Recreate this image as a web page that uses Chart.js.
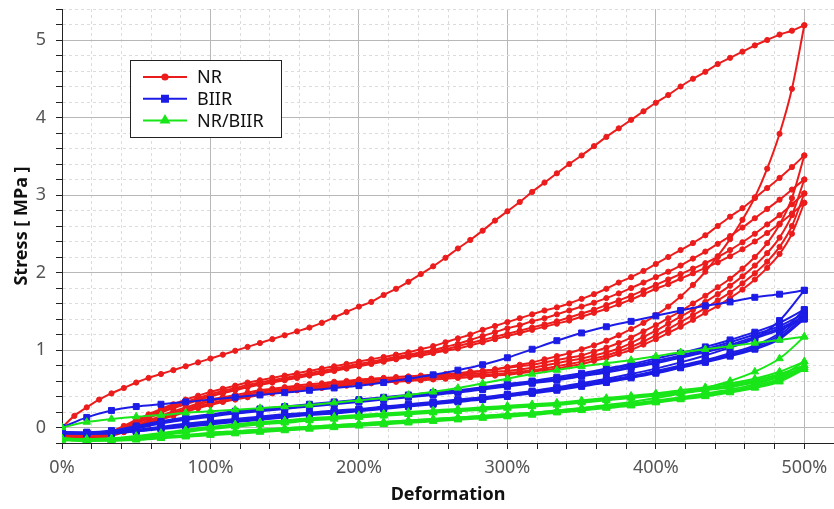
<html>
  <head>
    <script src="https://cdn.jsdelivr.net/npm/chart.js@4.4.0/dist/chart.umd.min.js"></script>
    <style>
      body { margin: 0; background: #fff; }
    </style>
  </head>
  <body>
    <canvas id="loopChart" width="834" height="509"></canvas>
    <script>
      // strain grids in %, NR is sampled twice as dense as the other two
      const nrStrain = [
        0, 8.33, 16.67, 25, 33.33, 41.67, 50, 58.33, 66.67, 75, 83.33, 91.67,
        100, 108.33, 116.67, 125, 133.33, 141.67, 150, 158.33, 166.67, 175, 183.33, 191.67,
        200, 208.33, 216.67, 225, 233.33, 241.67, 250, 258.33, 266.67, 275, 283.33, 291.67,
        300, 308.33, 316.67, 325, 333.33, 341.67, 350, 358.33, 366.67, 375, 383.33, 391.67,
        400, 408.33, 416.67, 425, 433.33, 441.67, 450, 458.33, 466.67, 475, 483.33, 491.67,
        500
      ];
      const biirStrain = [
        0, 16.67, 33.33, 50, 66.67, 83.33,
        100, 116.67, 133.33, 150, 166.67, 183.33,
        200, 216.67, 233.33, 250, 266.67, 283.33,
        300, 316.67, 333.33, 350, 366.67, 383.33,
        400, 416.67, 433.33, 450, 466.67, 483.33,
        500
      ];

      // stress in MPa, one row per cycle; unloading rows are also listed from 0% up to 500%
      const nrLoading = [
        [0.00, 0.15, 0.26, 0.36, 0.44, 0.51, 0.58, 0.64, 0.69, 0.74, 0.79, 0.84,
         0.89, 0.94, 0.99, 1.04, 1.09, 1.14, 1.19, 1.24, 1.29, 1.35, 1.42, 1.49,
         1.56, 1.62, 1.71, 1.79, 1.88, 1.98, 2.08, 2.19, 2.31, 2.42, 2.54, 2.67,
         2.79, 2.91, 3.04, 3.16, 3.28, 3.40, 3.51, 3.63, 3.75, 3.86, 3.97, 4.08,
         4.19, 4.29, 4.40, 4.50, 4.59, 4.69, 4.77, 4.85, 4.93, 5.00, 5.07, 5.12, 5.19],
        [-0.08, -0.10, -0.10, -0.09, -0.05, 0.02, 0.10, 0.17, 0.24, 0.30, 0.36, 0.41,
         0.46, 0.50, 0.54, 0.58, 0.61, 0.64, 0.67, 0.70, 0.73, 0.76, 0.79, 0.82,
         0.85, 0.88, 0.91, 0.94, 0.97, 1.01, 1.05, 1.10, 1.15, 1.20, 1.26, 1.31,
         1.36, 1.41, 1.46, 1.51, 1.55, 1.60, 1.66, 1.72, 1.79, 1.87, 1.94, 2.02,
         2.11, 2.20, 2.29, 2.38, 2.48, 2.60, 2.72, 2.83, 2.96, 3.09, 3.22, 3.36, 3.51],
        [-0.09, -0.11, -0.11, -0.10, -0.06, 0.01, 0.08, 0.15, 0.22, 0.28, 0.33, 0.38,
         0.43, 0.47, 0.51, 0.55, 0.58, 0.61, 0.64, 0.67, 0.70, 0.73, 0.76, 0.79,
         0.82, 0.85, 0.88, 0.91, 0.94, 0.97, 1.00, 1.04, 1.08, 1.13, 1.18, 1.23,
         1.28, 1.32, 1.37, 1.41, 1.46, 1.51, 1.56, 1.61, 1.67, 1.73, 1.80, 1.87,
         1.94, 2.01, 2.09, 2.18, 2.27, 2.37, 2.47, 2.58, 2.70, 2.82, 2.94, 3.07, 3.20],
        [-0.10, -0.11, -0.11, -0.10, -0.07, -0.01, 0.06, 0.13, 0.20, 0.26, 0.31, 0.36,
         0.41, 0.45, 0.49, 0.53, 0.56, 0.59, 0.62, 0.65, 0.68, 0.71, 0.74, 0.77,
         0.80, 0.83, 0.86, 0.89, 0.92, 0.95, 0.98, 1.01, 1.05, 1.09, 1.13, 1.17,
         1.21, 1.25, 1.29, 1.33, 1.37, 1.42, 1.47, 1.52, 1.58, 1.64, 1.70, 1.77,
         1.84, 1.91, 1.98, 2.05, 2.12, 2.20, 2.29, 2.39, 2.50, 2.62, 2.74, 2.88, 3.02],
        [-0.11, -0.12, -0.12, -0.11, -0.08, -0.02, 0.05, 0.12, 0.19, 0.25, 0.30, 0.35,
         0.40, 0.44, 0.48, 0.52, 0.55, 0.58, 0.61, 0.64, 0.67, 0.70, 0.73, 0.76,
         0.79, 0.82, 0.85, 0.88, 0.91, 0.93, 0.96, 0.99, 1.02, 1.06, 1.10, 1.14,
         1.18, 1.22, 1.26, 1.30, 1.34, 1.38, 1.43, 1.48, 1.53, 1.59, 1.65, 1.72,
         1.79, 1.85, 1.92, 1.99, 2.06, 2.13, 2.21, 2.30, 2.40, 2.51, 2.63, 2.76, 2.90]
      ];
      const nrUnloading = [
        [-0.10, -0.12, -0.12, -0.11, -0.09, -0.05, 0.00, 0.06, 0.12, 0.18, 0.23, 0.27,
         0.31, 0.34, 0.37, 0.40, 0.43, 0.45, 0.47, 0.49, 0.51, 0.53, 0.54, 0.56,
         0.57, 0.58, 0.60, 0.61, 0.62, 0.64, 0.65, 0.67, 0.69, 0.71, 0.73, 0.75,
         0.78, 0.81, 0.84, 0.88, 0.92, 0.96, 1.01, 1.06, 1.12, 1.19, 1.27, 1.35,
         1.45, 1.56, 1.69, 1.84, 2.01, 2.21, 2.43, 2.68, 2.97, 3.34, 3.79, 4.37, 5.19],
        [-0.10, -0.12, -0.12, -0.11, -0.08, -0.03, 0.03, 0.09, 0.15, 0.21, 0.26, 0.31,
         0.36, 0.39, 0.42, 0.45, 0.48, 0.50, 0.52, 0.54, 0.56, 0.57, 0.59, 0.60,
         0.62, 0.63, 0.64, 0.65, 0.66, 0.67, 0.68, 0.69, 0.70, 0.72, 0.73, 0.75,
         0.77, 0.79, 0.81, 0.84, 0.87, 0.90, 0.93, 0.98, 1.03, 1.09, 1.16, 1.24,
         1.32, 1.41, 1.50, 1.60, 1.70, 1.81, 1.92, 2.05, 2.20, 2.38, 2.62, 2.96, 3.51],
        [-0.11, -0.12, -0.12, -0.11, -0.09, -0.04, 0.01, 0.07, 0.13, 0.19, 0.24, 0.29,
         0.34, 0.37, 0.40, 0.43, 0.46, 0.48, 0.50, 0.52, 0.54, 0.55, 0.57, 0.58,
         0.60, 0.61, 0.62, 0.63, 0.64, 0.65, 0.66, 0.67, 0.68, 0.69, 0.70, 0.72,
         0.73, 0.75, 0.77, 0.80, 0.83, 0.86, 0.89, 0.93, 0.97, 1.02, 1.09, 1.17,
         1.25, 1.34, 1.43, 1.52, 1.62, 1.72, 1.83, 1.95, 2.09, 2.25, 2.45, 2.74, 3.20],
        [-0.11, -0.13, -0.13, -0.12, -0.10, -0.05, 0.00, 0.05, 0.11, 0.17, 0.22, 0.27,
         0.31, 0.35, 0.38, 0.41, 0.44, 0.46, 0.48, 0.50, 0.52, 0.53, 0.55, 0.56,
         0.58, 0.59, 0.60, 0.61, 0.62, 0.63, 0.64, 0.65, 0.66, 0.67, 0.68, 0.69,
         0.70, 0.72, 0.74, 0.76, 0.79, 0.82, 0.85, 0.89, 0.93, 0.98, 1.04, 1.11,
         1.19, 1.27, 1.36, 1.45, 1.54, 1.64, 1.74, 1.86, 1.99, 2.14, 2.33, 2.60, 3.02],
        [-0.12, -0.13, -0.13, -0.13, -0.11, -0.06, -0.01, 0.04, 0.10, 0.15, 0.20, 0.25,
         0.29, 0.33, 0.36, 0.39, 0.42, 0.44, 0.46, 0.48, 0.50, 0.51, 0.53, 0.54,
         0.56, 0.57, 0.58, 0.59, 0.60, 0.61, 0.62, 0.63, 0.64, 0.65, 0.66, 0.67,
         0.68, 0.70, 0.72, 0.74, 0.76, 0.79, 0.82, 0.86, 0.90, 0.95, 1.00, 1.07,
         1.14, 1.22, 1.30, 1.39, 1.48, 1.57, 1.67, 1.78, 1.91, 2.06, 2.24, 2.50, 2.90]
      ];

      const biirLoading = [
        [0.00, 0.13, 0.22, 0.27, 0.30, 0.33, 0.36, 0.39, 0.42, 0.45, 0.48, 0.51,
         0.54, 0.58, 0.63, 0.68, 0.74, 0.81, 0.90, 1.01, 1.12, 1.22, 1.30, 1.37,
         1.44, 1.51, 1.57, 1.62, 1.68, 1.72, 1.77],
        [-0.06, -0.06, -0.04, 0.02, 0.08, 0.13, 0.17, 0.21, 0.24, 0.27, 0.30, 0.33,
         0.36, 0.39, 0.42, 0.45, 0.48, 0.52, 0.56, 0.60, 0.65, 0.70, 0.76, 0.82,
         0.89, 0.96, 1.04, 1.13, 1.23, 1.35, 1.52],
        [-0.06, -0.07, -0.05, 0.01, 0.07, 0.12, 0.16, 0.20, 0.23, 0.26, 0.29, 0.32,
         0.35, 0.38, 0.41, 0.44, 0.47, 0.51, 0.55, 0.59, 0.63, 0.68, 0.74, 0.80,
         0.86, 0.93, 1.01, 1.10, 1.20, 1.31, 1.47],
        [-0.07, -0.07, -0.05, 0.00, 0.06, 0.11, 0.15, 0.19, 0.22, 0.25, 0.28, 0.31,
         0.34, 0.37, 0.40, 0.43, 0.46, 0.50, 0.54, 0.58, 0.62, 0.67, 0.72, 0.78,
         0.84, 0.91, 0.99, 1.07, 1.17, 1.28, 1.43],
        [-0.07, -0.08, -0.06, -0.01, 0.05, 0.10, 0.14, 0.18, 0.21, 0.24, 0.27, 0.30,
         0.33, 0.36, 0.39, 0.42, 0.45, 0.49, 0.53, 0.57, 0.61, 0.66, 0.71, 0.77,
         0.83, 0.90, 0.97, 1.05, 1.15, 1.26, 1.40]
      ];
      const biirUnloading = [
        [-0.06, -0.07, -0.06, -0.03, 0.01, 0.05, 0.08, 0.11, 0.14, 0.17, 0.19, 0.22,
         0.24, 0.27, 0.30, 0.33, 0.36, 0.39, 0.43, 0.47, 0.52, 0.57, 0.63, 0.69,
         0.76, 0.84, 0.93, 1.03, 1.15, 1.38, 1.77],
        [-0.06, -0.07, -0.06, -0.04, 0.00, 0.04, 0.07, 0.10, 0.13, 0.16, 0.18, 0.21,
         0.23, 0.26, 0.29, 0.32, 0.35, 0.38, 0.42, 0.46, 0.51, 0.55, 0.61, 0.66,
         0.73, 0.80, 0.87, 0.96, 1.06, 1.22, 1.52],
        [-0.07, -0.07, -0.07, -0.04, -0.01, 0.03, 0.06, 0.09, 0.12, 0.15, 0.18, 0.20,
         0.23, 0.26, 0.29, 0.32, 0.35, 0.38, 0.42, 0.46, 0.50, 0.55, 0.60, 0.66,
         0.72, 0.79, 0.86, 0.94, 1.04, 1.19, 1.47],
        [-0.07, -0.08, -0.07, -0.05, -0.01, 0.02, 0.05, 0.08, 0.11, 0.14, 0.17, 0.19,
         0.22, 0.25, 0.28, 0.31, 0.34, 0.37, 0.41, 0.45, 0.49, 0.54, 0.59, 0.65,
         0.71, 0.78, 0.85, 0.93, 1.02, 1.16, 1.43],
        [-0.08, -0.08, -0.08, -0.05, -0.02, 0.01, 0.04, 0.07, 0.10, 0.13, 0.16, 0.18,
         0.21, 0.24, 0.27, 0.30, 0.33, 0.36, 0.40, 0.44, 0.48, 0.53, 0.58, 0.64,
         0.70, 0.77, 0.84, 0.92, 1.01, 1.14, 1.40]
      ];

      const blendLoading = [
        [0.00, 0.07, 0.11, 0.14, 0.16, 0.19, 0.21, 0.23, 0.25, 0.27, 0.29, 0.32,
         0.35, 0.38, 0.42, 0.46, 0.51, 0.57, 0.63, 0.69, 0.74, 0.79, 0.83, 0.87,
         0.92, 0.97, 1.01, 1.05, 1.09, 1.13, 1.17],
        [-0.14, -0.15, -0.14, -0.11, -0.07, -0.03, 0.01, 0.04, 0.07, 0.09, 0.12, 0.14,
         0.16, 0.18, 0.20, 0.22, 0.24, 0.26, 0.28, 0.30, 0.32, 0.35, 0.38, 0.41,
         0.44, 0.48, 0.52, 0.57, 0.63, 0.72, 0.85],
        [-0.15, -0.16, -0.15, -0.12, -0.08, -0.04, 0.00, 0.03, 0.06, 0.08, 0.11, 0.13,
         0.15, 0.17, 0.19, 0.21, 0.23, 0.25, 0.27, 0.29, 0.31, 0.34, 0.37, 0.40,
         0.43, 0.46, 0.50, 0.55, 0.61, 0.69, 0.80],
        [-0.15, -0.16, -0.15, -0.13, -0.09, -0.05, -0.01, 0.02, 0.05, 0.07, 0.10, 0.12,
         0.14, 0.16, 0.18, 0.20, 0.22, 0.24, 0.26, 0.28, 0.30, 0.33, 0.36, 0.39,
         0.42, 0.45, 0.49, 0.54, 0.59, 0.67, 0.77],
        [-0.16, -0.17, -0.16, -0.13, -0.10, -0.06, -0.02, 0.01, 0.04, 0.06, 0.09, 0.11,
         0.13, 0.15, 0.17, 0.19, 0.21, 0.23, 0.25, 0.27, 0.29, 0.32, 0.35, 0.38,
         0.41, 0.44, 0.48, 0.52, 0.58, 0.65, 0.75]
      ];
      const blendUnloading = [
        [-0.14, -0.15, -0.15, -0.14, -0.12, -0.10, -0.07, -0.05, -0.03, -0.01, 0.01, 0.03,
         0.05, 0.07, 0.09, 0.11, 0.13, 0.15, 0.17, 0.19, 0.22, 0.25, 0.29, 0.33,
         0.38, 0.44, 0.51, 0.60, 0.72, 0.89, 1.17],
        [-0.15, -0.16, -0.15, -0.14, -0.12, -0.10, -0.07, -0.05, -0.03, -0.01, 0.01, 0.03,
         0.05, 0.07, 0.09, 0.11, 0.13, 0.15, 0.17, 0.19, 0.22, 0.25, 0.28, 0.31,
         0.35, 0.39, 0.44, 0.49, 0.56, 0.66, 0.85],
        [-0.15, -0.16, -0.16, -0.15, -0.13, -0.11, -0.08, -0.06, -0.04, -0.02, 0.00, 0.02,
         0.04, 0.06, 0.08, 0.10, 0.12, 0.14, 0.16, 0.18, 0.21, 0.24, 0.27, 0.30,
         0.34, 0.38, 0.42, 0.47, 0.54, 0.63, 0.80],
        [-0.16, -0.17, -0.16, -0.15, -0.13, -0.11, -0.09, -0.07, -0.05, -0.03, -0.01, 0.01,
         0.03, 0.05, 0.07, 0.09, 0.11, 0.13, 0.15, 0.17, 0.20, 0.23, 0.26, 0.29,
         0.33, 0.37, 0.41, 0.46, 0.52, 0.61, 0.77],
        [-0.16, -0.17, -0.17, -0.16, -0.14, -0.12, -0.10, -0.08, -0.06, -0.04, -0.02, 0.00,
         0.02, 0.04, 0.06, 0.08, 0.10, 0.12, 0.14, 0.16, 0.19, 0.22, 0.25, 0.28,
         0.32, 0.36, 0.40, 0.45, 0.51, 0.59, 0.75]
      ];

      const materials = [
        { label: 'NR/BIIR', color: '#19e619', strain: biirStrain, loading: blendLoading, unloading: blendUnloading, pointStyle: 'triangle', radius: 4.3, order: 1 },
        { label: 'BIIR', color: '#1c1ce6', strain: biirStrain, loading: biirLoading, unloading: biirUnloading, pointStyle: 'rect', radius: 4.2, order: 2 },
        { label: 'NR', color: '#ec1c1c', strain: nrStrain, loading: nrLoading, unloading: nrUnloading, pointStyle: 'circle', radius: 2.6, order: 3 }
      ];
      const legendOrder = ['NR', 'BIIR', 'NR/BIIR'];

      const FONT = "'Noto Sans', 'DejaVu Sans', sans-serif";

      function toPoints(strain, stress) {
        return strain.map(function(x, i) { return { x: x, y: stress[i] }; });
      }

      const datasets = [];
      materials.forEach(function(m) {
        [m.loading, m.unloading].forEach(function(branches) {
          branches.forEach(function(stress) {
            datasets.push({
              label: m.label,
              data: toPoints(m.strain, stress),
              borderColor: m.color,
              backgroundColor: m.color,
              borderWidth: 2,
              pointStyle: m.pointStyle,
              pointRadius: m.radius,
              pointBorderWidth: 1,
              cubicInterpolationMode: 'monotone',
              order: m.order
            });
          });
        });
      });

      const isMajor = function(v, step) {
        return Math.abs(v / step - Math.round(v / step)) < 1e-6;
      };

      // no label overhang: keep the plot area where the reference has it
      function noPad(scale) {
        scale.paddingTop = 0;
        scale.paddingBottom = 0;
        scale.paddingLeft = 0;
        scale.paddingRight = 0;
      }

      const boxLegend = {
        id: 'boxLegend',
        afterDraw: function(chart) {
          const ctx = chart.ctx;
          ctx.save();
          ctx.fillStyle = '#fff';
          ctx.fillRect(130, 60, 151, 77);
          ctx.strokeStyle = '#222';
          ctx.lineWidth = 1;
          ctx.strokeRect(130.5, 60.5, 151, 77);
          ctx.font = '18px ' + FONT;
          ctx.textBaseline = 'middle';
          legendOrder.forEach(function(name, i) {
            const m = materials.find(function(mm) { return mm.label === name; });
            const y = 77 + i * 21.7;
            ctx.strokeStyle = m.color;
            ctx.fillStyle = m.color;
            ctx.lineWidth = 2;
            ctx.beginPath();
            ctx.moveTo(143, y);
            ctx.lineTo(187, y);
            ctx.stroke();
            Chart.helpers.drawPoint(ctx, { pointStyle: m.pointStyle, radius: m.radius, borderWidth: 1, rotation: 0 }, 165, y);
            ctx.fillStyle = '#111';
            ctx.fillText(name, 197, y + 1);
          });
          ctx.restore();
        }
      };

      const whiteBg = {
        id: 'whiteBg',
        beforeDraw: function(chart) {
          const ctx = chart.ctx;
          ctx.save();
          ctx.fillStyle = '#fff';
          ctx.fillRect(0, 0, chart.width, chart.height);
          ctx.restore();
        }
      };

      window.onload = function() {
        const ctx = document.getElementById('loopChart');
        window.loopChart = new Chart(ctx, {
          type: 'line',
          data: { datasets: datasets },
          plugins: [whiteBg, boxLegend],
          options: {
            responsive: false,
            animation: false,
            layout: { autoPadding: false, padding: { top: 9, right: 0, left: 0, bottom: 0 } },
            plugins: {
              legend: { display: false },
              tooltip: { enabled: false }
            },
            scales: {
              x: {
                type: 'linear',
                min: 0,
                max: 520,
                afterFit: function(scale) { scale.height = 66; noPad(scale); },
                ticks: {
                  stepSize: 20,
                  autoSkip: false,
                  maxRotation: 0,
                  padding: 8,
                  color: '#555',
                  font: { family: FONT, size: 18 },
                  callback: function(v) { return isMajor(v, 100) ? v + '%' : ''; }
                },
                grid: {
                  color: function(c) { return c.tick && isMajor(c.tick.value, 100) ? '#b8b8b8' : '#dcdcdc'; },
                  tickColor: '#222',
                  tickLength: 6
                },
                border: {
                  color: '#222',
                  width: 1,
                  dash: function(c) { return c.tick && !isMajor(c.tick.value, 100) ? [3, 3] : []; }
                },
                title: {
                  display: true,
                  text: 'Deformation',
                  color: '#111',
                  font: { family: FONT, size: 18, weight: 'bold' },
                  padding: { top: 0, bottom: 3 }
                }
              },
              y: {
                type: 'linear',
                min: -0.2,
                max: 5.4,
                afterFit: function(scale) { scale.width = 62; noPad(scale); },
                ticks: {
                  stepSize: 0.2,
                  autoSkip: false,
                  padding: 10,
                  color: '#555',
                  font: { family: FONT, size: 18 },
                  callback: function(v) { return isMajor(v, 1) ? String(Math.round(v)) : ''; }
                },
                grid: {
                  color: function(c) { return c.tick && isMajor(c.tick.value, 1) ? '#b8b8b8' : '#dcdcdc'; },
                  tickColor: '#222',
                  tickLength: 6
                },
                border: {
                  color: '#222',
                  width: 1,
                  dash: function(c) { return c.tick && !isMajor(c.tick.value, 1) ? [3, 3] : []; }
                },
                title: {
                  display: true,
                  text: 'Stress [ MPa ]',
                  color: '#111',
                  font: { family: FONT, size: 18, weight: 'bold' },
                  padding: { top: 11, bottom: 0 }
                }
              }
            }
          }
        });
      };
    </script>
  </body>
</html>
